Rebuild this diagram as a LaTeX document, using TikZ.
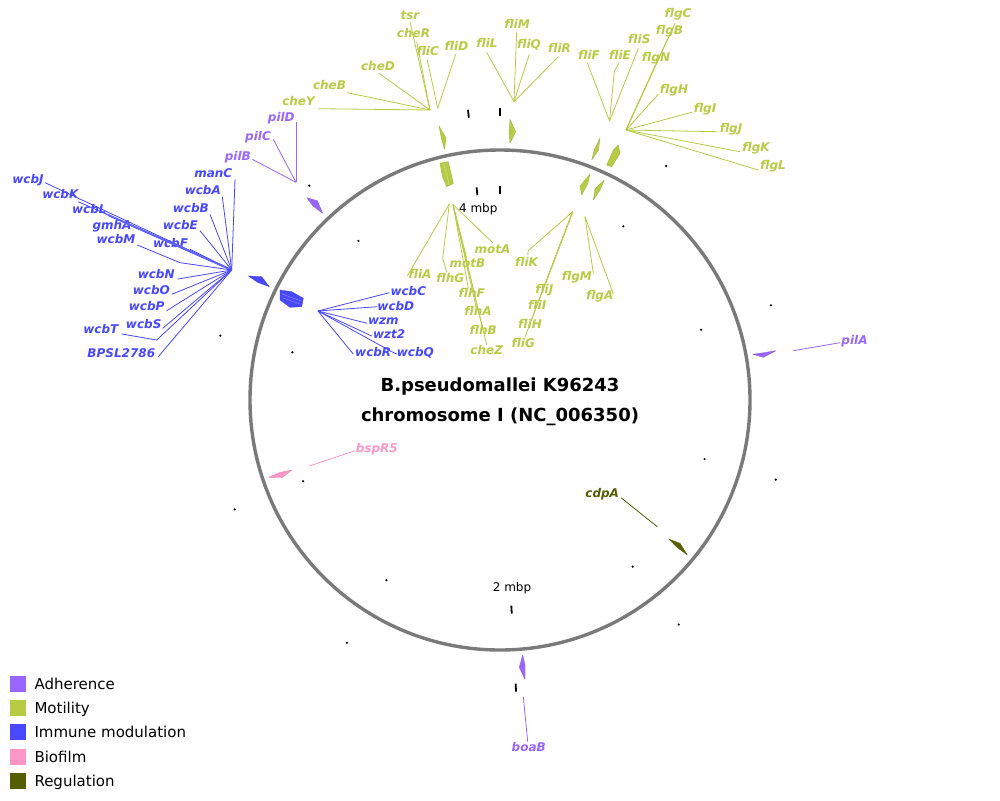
\documentclass[tikz,border=0pt]{standalone}
\usepackage{fontspec}
\setmainfont{DejaVu Sans}[BoldFont={DejaVu Sans Bold},ItalicFont={DejaVu Sans Oblique},BoldItalicFont={DejaVu Sans Bold Oblique}]
\definecolor{cadh}{RGB}{153,102,255}
\definecolor{cmot}{RGB}{183,204,68}
\definecolor{cimm}{RGB}{72,72,255}
\definecolor{cbio}{RGB}{255,150,200}
\definecolor{creg}{RGB}{85,94,0}
\definecolor{ringc}{RGB}{122,122,122}
\tikzset{
  glab/.style={font=\fontsize{12}{14}\selectfont\bfseries\itshape, inner sep=0pt, text height=9pt, text depth=2.6pt, anchor=center},
  lead/.style={line width=0.8pt},
  gene/.style={line width=0.3pt, line join=round},
  legsq/.style={minimum size=16pt, inner sep=0pt, draw=none},
  legtxt/.style={font=\fontsize{15}{18}\selectfont, inner sep=0pt, anchor=base west},
  ttl/.style={font=\fontsize{18}{22}\selectfont\bfseries, inner sep=0pt, anchor=base},
  mbp/.style={font=\fontsize{12}{14}\selectfont, inner sep=0pt, text height=9pt, text depth=2.6pt}
}
\begin{document}
\begin{tikzpicture}[x=1pt,y=-1pt]
\path[fill=white] (0,0) rectangle (1000,800);
\useasboundingbox (0,0) rectangle (1000,800);

% ring
\coordinate (o) at (500,400);
\draw[line width=3.4pt, ringc] (o) circle[radius=250pt];

% ticks
\foreach \k in {0,...,10}{
  \pgfmathsetmacro\a{\k*35.37}
  \ifnum\k=0 \def\maj{1}\else\ifnum\k=5 \def\maj{1}\else\ifnum\k=10 \def\maj{1}\else\def\maj{0}\fi\fi\fi
  \if1\maj
    \draw[line width=1.8pt] ({500+284*sin(\a)},{400-284*cos(\a)}) -- ({500+292*sin(\a)},{400-292*cos(\a)});
    \draw[line width=1.8pt] ({500+206*sin(\a)},{400-206*cos(\a)}) -- ({500+214*sin(\a)},{400-214*cos(\a)});
  \else
    \fill ({500+287*sin(\a)},{400-287*cos(\a)}) circle[radius=1.2pt];
    \fill ({500+213*sin(\a)},{400-213*cos(\a)}) circle[radius=1.2pt];
  \fi
}
\node[mbp] (m4) at (478.3,209.7) {4 mbp};
\node[mbp] (m2) at (512,588.5) {2 mbp};

% title
\node[ttl] (t1) at (500,391) {B.pseudomallei K96243};
\node[ttl] (t2) at (500,421.5) {chromosome I (NC\_006350)};

% ---------- gene shapes ----------
% motility outer
\filldraw[gene, fill=cmot, draw=cmot!85!black] (439,126) -- (446,138) -- (444.5,149.5) -- (441.5,139) -- cycle;
\filldraw[gene, fill=cmot, draw=cmot!85!black] (510,119.3) -- (515.7,131.7) -- (510,143.3) -- (509,132) -- cycle;
\filldraw[gene, fill=cmot, draw=cmot!85!black] (600,138.3) -- (598.5,150) -- (591.7,160) -- (594.5,149) -- cycle;
\filldraw[gene, fill=cmot, draw=cmot!85!black] (613.3,150) -- (618.3,145) -- (620,153.3) -- (611.7,166.7) -- (606.7,165) -- cycle;
% motility inner
\filldraw[gene, fill=cmot, draw=cmot!85!black] (440,163.3) -- (448.3,161.7) -- (453.3,183.3) -- (446.7,186.7) -- (442.5,177) -- cycle;
\draw[line width=0.4pt, cmot!60!white] (444,164) -- (449,184);
\filldraw[gene, fill=cmot, draw=cmot!85!black] (590,174) -- (588,183) -- (581.7,195) -- (580,186) -- cycle;
\filldraw[gene, fill=cmot, draw=cmot!85!black] (604.3,180) -- (600,190) -- (593.3,200) -- (595,189) -- cycle;
% adherence
\filldraw[gene, fill=cadh, draw=cadh!85!black] (306.7,197.7) -- (317.3,200.7) -- (322.7,213.3) -- (313,206) -- cycle;
\filldraw[gene, fill=cadh, draw=cadh!85!black] (752.7,354.3) -- (765,352.5) -- (776,350.7) -- (763.3,357.3) -- cycle;
\filldraw[gene, fill=cadh, draw=cadh!85!black] (522.7,655) -- (525,665) -- (525,679.3) -- (519.3,667.3) -- cycle;
% immune
\filldraw[gene, fill=cimm, draw=cimm!85!black] (248.3,276) -- (261.7,276.7) -- (269.3,286.7) -- (258,282.5) -- cycle;
\filldraw[gene, fill=cimm, draw=cimm!85!black] (280,290) -- (291.7,291.7) -- (303.3,298.3) -- (301.7,306.7) -- (290,307.3) -- (280,300) -- cycle;
\draw[line width=0.4pt, cimm!60!white] (282,294) -- (301,301) (283,298) -- (300,304);
% biofilm
\filldraw[gene, fill=cbio, draw=cbio!85!black] (268.3,477.3) -- (280,472.5) -- (291.7,470) -- (282.5,477.5) -- cycle;
% regulation
\filldraw[gene, fill=creg, draw=creg] (669.3,539.3) -- (680,543.3) -- (687.3,555) -- (676,546.5) -- cycle;

% ---------- motility labels, top left ----------
\coordinate (hA) at (430,110);
\coordinate (hA2) at (437.7,108.3);
\foreach \t/\lx/\ly/\sx/\sy in {tsr/410/16/410/21.7, cheR/413.5/34/416.7/41.7, cheD/378/67/379/73.3, cheB/329.5/86/347.3/92.7, cheY/298.5/102.5/318.3/108.7}{
  \node[glab, text=cmot] (l-\t) at (\lx,\ly) {\t};
  \coordinate (e-\t) at (\sx,\sy);
  \draw[lead, cmot] (e-\t) -- (hA);
}
\foreach \t/\lx/\ly/\sx/\sy in {fliC/427.7/52/427.3/60, fliD/456.5/47/455.7/54.3}{
  \node[glab, text=cmot] (l-\t) at (\lx,\ly) {\t};
  \coordinate (e-\t) at (\sx,\sy);
  \draw[lead, cmot] (e-\t) -- (hA2);
}
% top middle
\coordinate (hB) at (514,101.7);
\foreach \t/\lx/\ly/\sx/\sy in {fliL/487/44.5/486.7/52.3, fliM/517/25.5/516.7/31.7, fliQ/529/45.5/529.3/54.3, fliR/559.5/49.7/558.3/56.7}{
  \node[glab, text=cmot] (l-\t) at (\lx,\ly) {\t};
  \coordinate (e-\t) at (\sx,\sy);
  \draw[lead, cmot] (e-\t) -- (hB);
}
% top right
\coordinate (hC) at (609.5,121);
\coordinate (hC2) at (626,130);
\foreach \t/\lx/\ly/\sx/\sy in {fliF/589/56/587.3/62.7, fliS/639.3/40.5/638.3/48.3}{
  \node[glab, text=cmot] (l-\t) at (\lx,\ly) {\t};
  \coordinate (e-\t) at (\sx,\sy);
  \draw[lead, cmot] (e-\t) -- (hC);
}
\node[glab, text=cmot] (l-fliE) at (620,56) {fliE};
\coordinate (e-fliE) at (619,62.7);
\coordinate (w-fliE) at (614.3,71.7);
\draw[lead, cmot] (e-fliE) -- (w-fliE) -- (hC);
\foreach \t/\lx/\ly/\sx/\sy in {flgC/678/14/675/23.3, flgB/669.5/31.5/667.5/39, flgN/656/58.3/655/66, flgH/674/90/658.3/94.3, flgI/705/108.8/691.7/112.3, flgJ/731/128.8/717.3/131.7, flgK/756/148.3/740/151.7, flgL/773/166.7/758.3/170}{
  \node[glab, text=cmot] (l-\t) at (\lx,\ly) {\t};
  \coordinate (e-\t) at (\sx,\sy);
  \draw[lead, cmot] (e-\t) -- (hC2);
}

% ---------- motility labels, inside ----------
\coordinate (hG) at (449.3,204);
\coordinate (hG2) at (453,204.5);
\node[glab, text=cmot] (l-fliA) at (420,275.5) {fliA};
\coordinate (e-fliA) at (407.3,276);
\draw[lead, cmot] (e-fliA) -- (hG);
\node[glab, text=cmot] (l-flhG) at (450.3,279) {flhG};
\coordinate (e-flhG) at (446.7,272.3);
\coordinate (w-flhG) at (442.7,258.3);
\draw[lead, cmot] (e-flhG) -- (w-flhG) -- (hG);
\node[glab, text=cmot] (l-motA) at (492.5,250.5) {motA};
\coordinate (e-motA) at (492.7,242.7);
\draw[lead, cmot] (e-motA) -- (hG2);
\foreach \t/\lx/\ly/\sx/\sy in {motB/467.5/263.8/466.7/258.3, flhF/471.7/293.8/468.3/288.3, flhA/478/312.5/476/306.7, flhB/483.3/331.7/481.7/325, cheZ/486.7/351.5/486.7/345}{
  \node[glab, text=cmot] (l-\t) at (\lx,\ly) {\t};
  \coordinate (e-\t) at (\sx,\sy);
  \draw[lead, cmot] (e-\t) -- (hG2);
}
\coordinate (hH) at (572.7,211.7);
\coordinate (hH2) at (585,216.7);
\node[glab, text=cmot] (l-fliK) at (526.5,262.8) {fliK};
\coordinate (e-fliK) at (527.7,255);
\coordinate (w-fliK) at (528.3,250.7);
\draw[lead, cmot] (e-fliK) -- (w-fliK) -- (hH);
\foreach \t/\lx/\ly/\sx/\sy in {fliJ/544.3/290.5/545/285, fliI/537.2/306.3/538.5/301.5, fliH/530/325/531.5/319.5, fliG/523.2/344.2/525/337}{
  \node[glab, text=cmot] (l-\t) at (\lx,\ly) {\t};
  \coordinate (e-\t) at (\sx,\sy);
  \draw[lead, cmot] (e-\t) -- (hH);
}
\foreach \t/\lx/\ly/\sx/\sy in {flgM/576.8/277.5/593.3/273.3, flgA/599.7/295.8/613.3/294}{
  \node[glab, text=cmot] (l-\t) at (\lx,\ly) {\t};
  \coordinate (e-\t) at (\sx,\sy);
  \draw[lead, cmot] (e-\t) -- (hH2);
}

% ---------- adherence ----------
\coordinate (hD) at (296,182.3);
\foreach \t/\lx/\ly/\sx/\sy in {pilD/281.3/118.3/296/122.3, pilC/258/137/273.3/139.3, pilB/237.8/157/252.3/159.3}{
  \node[glab, text=cadh] (l-\t) at (\lx,\ly) {\t};
  \coordinate (e-\t) at (\sx,\sy);
  \draw[lead, cadh] (e-\t) -- (hD);
}
\node[glab, text=cadh] (l-pilA) at (854.5,340.8) {pilA};
\coordinate (e-pilA) at (840,342.7);
\coordinate (g-pilA) at (793.3,350.7);
\draw[lead, cadh] (e-pilA) -- (g-pilA);
\node[glab, text=cadh] (l-boaB) at (528.7,748.5) {boaB};
\coordinate (e-boaB) at (527.7,741.7);
\coordinate (g-boaB) at (523.3,696.7);
\draw[lead, cadh] (e-boaB) -- (g-boaB);

% ---------- biofilm / regulation ----------
\node[glab, text=cbio] (l-bspR5) at (376.8,448.8) {bspR5};
\coordinate (e-bspR5) at (355,450.7);
\coordinate (g-bspR5) at (309.3,466);
\draw[lead, cbio] (e-bspR5) -- (g-bspR5);
\node[glab, text=creg] (l-cdpA) at (602.2,493.8) {cdpA};
\coordinate (e-cdpA) at (621,497.7);
\coordinate (g-cdpA) at (657.3,526.7);
\draw[lead, creg] (e-cdpA) -- (g-cdpA);

% ---------- immune modulation, outer ----------
\coordinate (hE) at (231.7,270);
\foreach \t/\lx/\ly/\sx/\sy in {manC/213.3/174.7/235/179.3, wcbA/202.8/191.3/222.3/196.7, wcbB/190.8/209.7/210/214.3, wcbE/180.3/226.7/200/230.7, wcbF/170.5/244.7/190/249.3, wcbJ/28/180/45/182.7, wcbK/60.3/195.7/78.3/201.7, wcbL/89.3/210/105/213.3, gmhA/112/225.8/131.7/226, wcbN/156.2/275.3/177.7/279, wcbO/151.3/291.3/171.7/294.3, wcbP/146.7/307.2/166.7/310.7, wcbS/143.7/325.3/162.7/328.3, BPSL2786/121.3/353.8/158.3/356.7}{
  \node[glab, text=cimm] (l-\t) at (\lx,\ly) {\t};
  \coordinate (e-\t) at (\sx,\sy);
  \draw[lead, cimm] (e-\t) -- (hE);
}
\coordinate (b1) at (108,215);
\draw[line width=2pt, cimm!85!white] (b1) -- (hE);
\node[glab, text=cimm] (l-wcbM) at (116,240) {wcbM};
\coordinate (e-wcbM) at (137.3,245);
\coordinate (w-wcbM) at (180,262.7);
\draw[lead, cimm] (e-wcbM) -- (w-wcbM) -- (hE);
\node[glab, text=cimm] (l-wcbT) at (100.8,330.5) {wcbT};
\coordinate (e-wcbT) at (121.7,334);
\coordinate (w-wcbT) at (156.7,340);
\draw[lead, cimm] (e-wcbT) -- (w-wcbT) -- (hE);

% ---------- immune modulation, inner ----------
\coordinate (hF) at (318,311);
\foreach \t/\lx/\ly/\sx/\sy in {wcbC/408.3/292/389.3/292.7, wcbD/395.8/307.2/377.3/306.7, wzm/383.3/321.3/367.3/323.3, wzt2/389.2/335/371.7/336, wcbR/373.2/353.7/353.3/354}{
  \node[glab, text=cimm] (l-\t) at (\lx,\ly) {\t};
  \coordinate (e-\t) at (\sx,\sy);
  \draw[lead, cimm] (e-\t) -- (hF);
}
\node[glab, text=cimm] (l-wcbQ) at (415.3,353.7) {wcbQ};
\coordinate (e-wcbQ) at (396.7,354);
\coordinate (w-wcbQ) at (391.7,351.7);
\draw[lead, cimm] (e-wcbQ) -- (w-wcbQ) -- (hF);

% ---------- legend ----------
\foreach \c/\t/\y in {cadh/Adherence/684, cmot/Motility/708, cimm/Immune modulation/732.3, cbio/Biofilm/757.3, creg/Regulation/781.3}{
  \node[legsq, fill=\c] (sq-\c) at (18,\y) {};
  \node[legtxt] (lt-\c) at (34.3,\y+5.3) {\t};
}
\end{tikzpicture}
\end{document}
